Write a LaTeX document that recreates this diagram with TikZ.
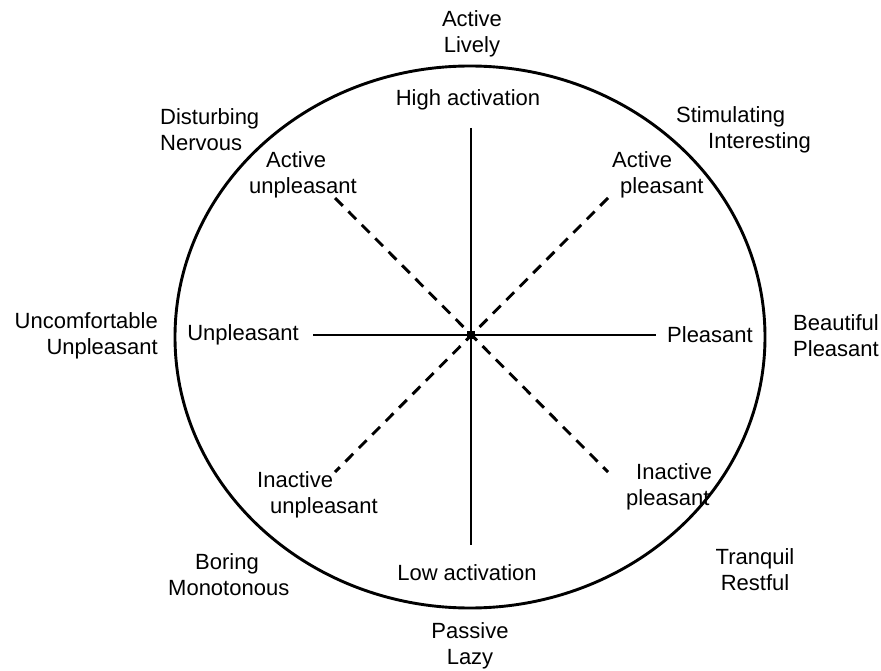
\documentclass[tikz,border=0pt]{standalone}
\usepackage{fontspec}
\setmainfont{Liberation Sans}
\usepackage{tikz}

\begin{document}
\begin{tikzpicture}[x=1pt,y=-1pt,
    every node/.style={font=\fontsize{22}{26}\selectfont, inner sep=0pt, align=center},
    axis/.style={line width=2.9pt},
    diag/.style={line width=2.9pt, dash pattern=on 11pt off 8pt}]
    \useasboundingbox (0,0) rectangle (881,671);
    \draw[line width=2.9pt] (470,337) ellipse [x radius=295pt, y radius=271pt];
    \coordinate (c) at (471,335);
    \coordinate (top) at (471,128);
    \coordinate (bot) at (471,545);
    \coordinate (lft) at (313,335);
    \coordinate (rgt) at (656,335);
    \coordinate (ul) at (335,198);
    \coordinate (ur) at (608,198);
    \coordinate (ll) at (335,472);
    \coordinate (lr) at (608,472);
    \node (act) at (472,34) {Active\\Lively};
    \node (hi) at (468,100) {High activation};
    \node[anchor=west, align=left] (dist) at (160,130) {Disturbing\\Nervous};
    \node[anchor=west, align=left] (aup) at (249,175) {\hspace*{17pt}Active\\unpleasant};
    \node[anchor=west, align=left] (stim) at (676,130) {Stimulating\\\hspace*{32pt}Interesting};
    \node[anchor=west, align=left] (apl) at (612,175) {Active\\\hspace*{8pt}pleasant};
    \node[anchor=east, align=right] (unc) at (158,336) {Uncomfortable\\Unpleasant};
    \node (unp) at (243,335) {Unpleasant};
    \node (ple) at (710,335) {Pleasant};
    \node[anchor=west, align=left] (beau) at (793,336) {Beautiful\\Pleasant};
    \node[anchor=west, align=left] (iup) at (257,495) {Inactive\\\hspace*{13pt}unpleasant};
    \node[anchor=west, align=left] (ipl) at (626,487) {\hspace*{10pt}Inactive\\pleasant};
    \node[anchor=west, align=left] (bor) at (168,575) {\hspace*{27pt}Boring\\Monotonous};
    \node (tra) at (755,570) {Tranquil\\Restful};
    \node (lo) at (467,573) {Low activation};
    \node (pas) at (470,646) {Passive\\Lazy};
    \draw[axis] (top) -- (bot);
    \draw[axis] (lft) -- (rgt);
    \draw[diag] (ul) -- (lr);
    \draw[diag] (ur) -- (ll);
    \node[fill, minimum size=8pt] (m) at (c) {};
\end{tikzpicture}
\end{document}
